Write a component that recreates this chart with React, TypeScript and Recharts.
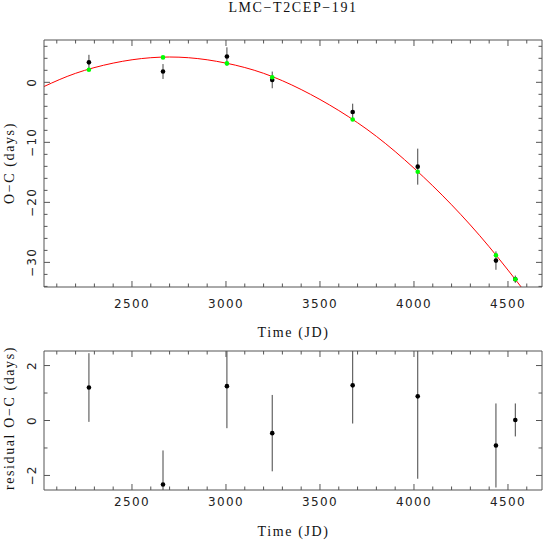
import React from "react";
import { ComposedChart, Line, Scatter, XAxis, YAxis, ErrorBar } from "recharts";

const times = [2271, 2665, 3005, 3246, 3674, 4020, 4436, 4539];
const observedOC = [3.33, 1.8, 4.3, 0.4, -4.95, -14.05, -29.7, -32.8];
const modelOC = [2.1, 4.15, 3.15, 0.85, -6.2, -14.9, -28.8, -32.8];
const residualOC = [1.2, -2.33, 1.25, -0.46, 1.28, 0.88, -0.91, 0.02];
const errorOC = [1.25, 1.24, 1.53, 1.39, 1.39, 3.0, 1.53, 0.6];

// red fit curve, sampled from the figure
const fitTimes = [2032, 2200, 2400, 2600, 2800, 3000, 3200, 3400, 3600, 3800, 4000, 4200, 4400, 4600];
const fitOC = [-0.7, 1.5, 3.2, 4.1, 4.1, 3.2, 1.5, -1.2, -4.7, -9.0, -14.3, -20.4, -27.4, -35.3];

const xTicks = [
  2100, 2200, 2300, 2400, 2500, 2600, 2700, 2800, 2900, 3000, 3100, 3200, 3300,
  3400, 3500, 3600, 3700, 3800, 3900, 4000, 4100, 4200, 4300, 4400, 4500, 4600,
];
const ocTicks = [6, 4, 2, 0, -2, -4, -6, -8, -10, -12, -14, -16, -18, -20, -22, -24, -26, -28, -30, -32, -34];
const resTicks = [2, 1, 0, -1, -2];

const xDomain = [2032, 4681];
const ocDomain = [-34.1, 7.05];
const resDomain = [-2.53, 2.53];

const fitData = fitTimes.map((x, i) => ({ x, y: fitOC[i] }));
const obsData = times.map((x, i) => ({ x, y: observedOC[i], err: errorOC[i] }));
const modelData = times.map((x, i) => ({ x, y: modelOC[i] }));
const resData = times.map((x, i) => ({ x, y: residualOC[i], err: errorOC[i] }));

const FRAME = "#555";
const NUM_FONT = "'DejaVu Sans', sans-serif";
const TXT_FONT = "'Liberation Serif', serif";

const fmt = (v: number) => (v < 0 ? "\u2212" + Math.abs(v) : String(v));

type Side = "bottom" | "top" | "left" | "right";

// ticks point inward, PGPLOT style; labels only on majors
const makeTick = (side: Side, step: number, labelOffset?: number) => (props: any) => {
  const { x, y, payload } = props;
  const v = payload.value;
  const major = Math.abs(Math.round(v / step) * step - v) < 1e-6;
  const len = major ? 6 : 3.5;
  let x2 = x,
    y2 = y;
  if (side === "bottom") y2 = y - len;
  if (side === "top") y2 = y + len;
  if (side === "left") x2 = x + len;
  if (side === "right") x2 = x - len;
  let label = null;
  if (major && labelOffset != null) {
    if (side === "bottom") {
      label = (
        <text x={x} y={y + labelOffset} textAnchor="middle" dominantBaseline="central"
          fontFamily={NUM_FONT} fontSize={12} letterSpacing={1.3} fill="#222">
          {fmt(v)}
        </text>
      );
    } else {
      const tx = x - labelOffset;
      label = (
        <text x={tx} y={y} textAnchor="middle" dominantBaseline="central"
          transform={`rotate(-90 ${tx} ${y})`}
          fontFamily={NUM_FONT} fontSize={12} letterSpacing={1.3} fill="#222">
          {fmt(v)}
        </text>
      );
    }
  }
  return (
    <g>
      <line x1={x} y1={y} x2={x2} y2={y2} stroke={FRAME} strokeWidth={1} />
      {label}
    </g>
  );
};

const dot = (color: string) => (props: any) =>
  <circle cx={props.cx} cy={props.cy} r={2.3} fill={color} />;

function frameAxes(yDomain: number[], yTicks: number[], yStep: number, xLabelOffset: number) {
  const common = {
    type: "number" as const,
    allowDataOverflow: true,
    interval: 0 as const,
    tickSize: 0,
    tickMargin: 0,
    tickLine: false,
    axisLine: { stroke: FRAME },
  };
  return [
    <XAxis key="xb" xAxisId="b" dataKey="x" orientation="bottom" domain={xDomain} ticks={xTicks} height={1} {...common} tick={makeTick("bottom", 500, xLabelOffset)} />,
    <XAxis key="xt" xAxisId="t" dataKey="x" orientation="top" domain={xDomain} ticks={xTicks} height={1} {...common} tick={makeTick("top", 500)} />,
    <YAxis key="yl" yAxisId="l" dataKey="y" orientation="left" domain={yDomain} ticks={yTicks} width={1} {...common} tick={makeTick("left", yStep, 12)} />,
    <YAxis key="yr" yAxisId="r" dataKey="y" orientation="right" domain={yDomain} ticks={yTicks} width={1} {...common} tick={makeTick("right", yStep)} />,
  ];
}

const textStyle = (left: number, top: number, rotate = false): React.CSSProperties => ({
  position: "absolute",
  left,
  top,
  transform: `translate(-50%, -50%)${rotate ? " rotate(-90deg)" : ""}`,
  whiteSpace: "nowrap",
  fontFamily: TXT_FONT,
  fontSize: 14,
  letterSpacing: 1.6,
  color: "#111",
  lineHeight: 1,
});

export default function App() {
  return (
    <div style={{ position: "absolute", left: 0, top: 0, width: 546, height: 542, background: "#fff" }}>
      {/* plot-area clip for error bars running past the frame */}
      <svg width={0} height={0} style={{ position: "absolute" }}>
        <defs>
          <clipPath id="topPlotClip">
            <rect x={44} y={40} width={498} height={247} />
          </clipPath>
          <clipPath id="resPlotClip">
            <rect x={44} y={11} width={498} height={139} />
          </clipPath>
        </defs>
      </svg>
      <style>{`
        .topPanel .recharts-errorBars { clip-path: url(#topPlotClip); }
        .resPanel .recharts-errorBars { clip-path: url(#resPlotClip); }
      `}</style>
      <div className="topPanel" style={{ position: "absolute", left: 0, top: 0 }}>
        <ComposedChart width={546} height={340} margin={{ top: 39, right: 3, bottom: 52, left: 43 }}>
          {frameAxes(ocDomain, ocTicks, 10, 16.5)}
          <Line xAxisId="b" yAxisId="l" data={fitData} dataKey="y" type="natural" stroke="#ff0000"
            strokeWidth={1} dot={false} activeDot={false} isAnimationActive={false} />
          <Scatter xAxisId="b" yAxisId="l" data={obsData} dataKey="y" shape={dot("#000")} isAnimationActive={false}>
            <ErrorBar dataKey="err" direction="y" width={0} stroke="#444" strokeWidth={1} />
          </Scatter>
          <Scatter xAxisId="b" yAxisId="l" data={modelData} dataKey="y" shape={dot("#00ff00")} isAnimationActive={false} />
        </ComposedChart>
      </div>
      <div className="resPanel" style={{ position: "absolute", left: 0, top: 340 }}>
        <ComposedChart width={546} height={202} margin={{ top: 10, right: 3, bottom: 51, left: 43 }}>
          {frameAxes(resDomain, resTicks, 2, 12)}
          <Scatter xAxisId="b" yAxisId="l" data={resData} dataKey="y" shape={dot("#000")} isAnimationActive={false}>
            <ErrorBar dataKey="err" direction="y" width={0} stroke="#444" strokeWidth={1} />
          </Scatter>
        </ComposedChart>
      </div>
      <div style={textStyle(293, 8)}>LMC{"\u2212"}T2CEP{"\u2212"}191</div>
      <div style={textStyle(293.5, 333)}>Time (JD)</div>
      <div style={textStyle(293.5, 532)}>Time (JD)</div>
      <div style={textStyle(10, 163, true)}>O{"\u2212"}C (days)</div>
      <div style={textStyle(10, 418, true)}>residual O{"\u2212"}C (days)</div>
    </div>
  );
}
